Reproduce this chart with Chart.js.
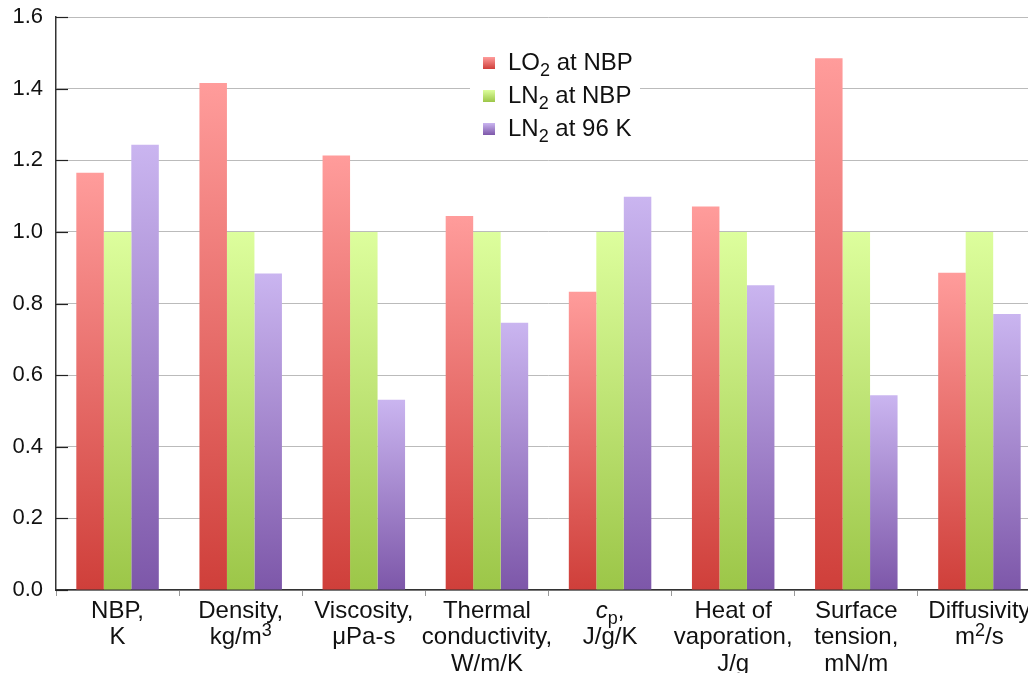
<!DOCTYPE html>
<html lang="en">
<head>
    <title>LO2 vs LN2 property ratios</title>
    <meta charset="UTF-8">
    <script src="https://cdn.jsdelivr.net/npm/chart.js"></script>
    <style>
        html, body { margin: 0; padding: 0; background: #fff; overflow: hidden; }
    </style>
</head>
<body>
    <canvas id="barChart" width="1045" height="673"></canvas>

    <script>
        // Category labels, one array per label (lines). *x* = italic, _x = subscript, ^x = superscript
        const categories = [
            ['NBP,', 'K'],
            ['Density,', 'kg/m^3'],
            ['Viscosity,', 'μPa-s'],
            ['Thermal', 'conductivity,', 'W/m/K'],
            ['*c*_p,', 'J/g/K'],
            ['Heat of', 'vaporation,', 'J/g'],
            ['Surface', 'tension,', 'mN/m'],
            ['Diffusivity', 'm^2/s']
        ];

        // Series values (ratio to LN2 at NBP)
        const lo2AtNbp = [1.165, 1.416, 1.213, 1.044, 0.833, 1.071, 1.485, 0.886];
        const ln2AtNbp = [1.0, 1.0, 1.0, 1.0, 1.0, 1.0, 1.0, 1.0];
        const ln2At96K = [1.243, 0.884, 0.531, 0.746, 1.098, 0.851, 0.544, 0.771];

        const seriesLabels = ['LO_2 at NBP', 'LN_2 at NBP', 'LN_2 at 96 K'];
        const yTicks = [0, 0.2, 0.4, 0.6, 0.8, 1.0, 1.2, 1.4, 1.6];

        // top / bottom colours of each bar gradient
        const palette = [
            { top: '#ff9c9b', bottom: '#cf3f3a' },
            { top: '#ddfe9d', bottom: '#9cc648' },
            { top: '#cab5f0', bottom: '#7d57a9' }
        ];

        const FONT = '"Liberation Sans", Arial, sans-serif';
        const FONT_SIZE = 24;

        // split "kg/m^3" style text into styled pieces
        function parseLine(s) {
            const segs = [];
            let buf = '';
            let i = 0;
            const flush = () => { if (buf) { segs.push({ t: buf, k: 'n' }); buf = ''; } };
            while (i < s.length) {
                const ch = s[i];
                if (ch === '_' || ch === '^') {
                    flush();
                    segs.push({ t: s[i + 1], k: ch === '_' ? 'sub' : 'sup' });
                    i += 2;
                } else if (ch === '*') {
                    flush();
                    const j = s.indexOf('*', i + 1);
                    segs.push({ t: s.slice(i + 1, j), k: 'it' });
                    i = j + 1;
                } else {
                    buf += ch;
                    i++;
                }
            }
            flush();
            return segs;
        }

        function segFont(k) {
            if (k === 'sub' || k === 'sup') return (FONT_SIZE - 6) + 'px ' + FONT;
            if (k === 'it') return 'italic ' + FONT_SIZE + 'px ' + FONT;
            return FONT_SIZE + 'px ' + FONT;
        }

        // draw a styled line, align 'center' or 'left'
        function drawRich(ctx, text, x, y, align) {
            const segs = parseLine(text);
            let width = 0;
            segs.forEach(s => { ctx.font = segFont(s.k); s.w = ctx.measureText(s.t).width; width += s.w; });
            let cx = align === 'center' ? x - width / 2 : x;
            ctx.textAlign = 'left';
            ctx.textBaseline = 'middle';
            ctx.fillStyle = '#111';
            segs.forEach(s => {
                ctx.font = segFont(s.k);
                let dy = 0;
                if (s.k === 'sub') dy = 8;
                if (s.k === 'sup') dy = -6;
                ctx.fillText(s.t, cx, y + dy);
                cx += s.w;
            });
        }

        function barGradient(index) {
            return function(context) {
                const chart = context.chart;
                if (!chart.chartArea || context.type !== 'data') return palette[index].top;
                const y = chart.scales.y;
                const top = y.getPixelForValue(context.raw);
                const bottom = y.getPixelForValue(0);
                const g = chart.ctx.createLinearGradient(0, top, 0, bottom);
                g.addColorStop(0, palette[index].top);
                g.addColorStop(1, palette[index].bottom);
                return g;
            };
        }

        // x labels, inner y ticks and the legend box
        const decorations = {
            id: 'decorations',
            afterDatasetsDraw(chart) {
                const ctx = chart.ctx;
                const x = chart.scales.x;
                const y = chart.scales.y;
                ctx.save();

                // short dark tick marks inside the plot
                ctx.strokeStyle = '#222';
                ctx.lineWidth = 1.2;
                y.ticks.forEach(t => {
                    const py = Math.round(y.getPixelForValue(t.value)) + 0.5;
                    ctx.beginPath();
                    ctx.moveTo(chart.chartArea.left, py);
                    ctx.lineTo(chart.chartArea.left + 12, py);
                    ctx.stroke();
                });

                // category labels
                categories.forEach((lines, i) => {
                    const cx = x.getPixelForTick(i);
                    lines.forEach((line, j) => {
                        drawRich(ctx, line, cx, chart.chartArea.bottom + 21 + j * 26.5, 'center');
                    });
                });

                // legend
                ctx.fillStyle = '#fff';
                ctx.fillRect(470, 44, 170, 102);
                chart.data.datasets.forEach((ds, i) => {
                    const ly = 63 + i * 33;
                    const g = ctx.createLinearGradient(0, ly - 6, 0, ly + 6);
                    g.addColorStop(0, palette[i].top);
                    g.addColorStop(1, palette[i].bottom);
                    ctx.fillStyle = g;
                    ctx.fillRect(483, ly - 6, 12, 12);
                    drawRich(ctx, ds.label, 508, ly, 'left');
                });
                ctx.restore();
            }
        };

        const ctx = document.getElementById('barChart').getContext('2d');
        const barChart = new Chart(ctx, {
            type: 'bar',
            data: {
                labels: categories.map(c => c.join(' ')),
                datasets: [
                    { label: seriesLabels[0], data: lo2AtNbp, backgroundColor: barGradient(0) },
                    { label: seriesLabels[1], data: ln2AtNbp, backgroundColor: barGradient(1) },
                    { label: seriesLabels[2], data: ln2At96K, backgroundColor: barGradient(2) }
                ]
            },
            options: {
                responsive: false,
                animation: false,
                layout: { padding: { top: 17, right: 4, left: 0, bottom: 0 } },
                datasets: {
                    bar: { categoryPercentage: 0.67, barPercentage: 1.0 }
                },
                plugins: {
                    legend: { display: false },
                    tooltip: { enabled: false }
                },
                scales: {
                    x: {
                        afterFit: scale => { scale.height = 83; },
                        ticks: { display: false },
                        grid: {
                            display: true,
                            drawOnChartArea: false,
                            drawTicks: true,
                            tickLength: 6,
                            color: '#999',
                            offset: true
                        },
                        border: { display: true, color: '#333', width: 1.5 }
                    },
                    y: {
                        min: 0,
                        max: 1.6,
                        afterFit: scale => {
                            scale.width = 56;
                            scale.paddingTop = 0;
                            scale.paddingBottom = 0;
                        },
                        afterBuildTicks: scale => { scale.ticks = yTicks.map(v => ({ value: v })); },
                        ticks: {
                            padding: 13,
                            color: '#111',
                            font: { family: FONT, size: 22 },
                            callback: v => Number(v).toFixed(1)
                        },
                        grid: { color: '#bbb', lineWidth: 1, drawTicks: false },
                        border: { display: true, color: '#333', width: 1.5 }
                    }
                }
            },
            plugins: [decorations]
        });
    </script>
</body>
</html>
